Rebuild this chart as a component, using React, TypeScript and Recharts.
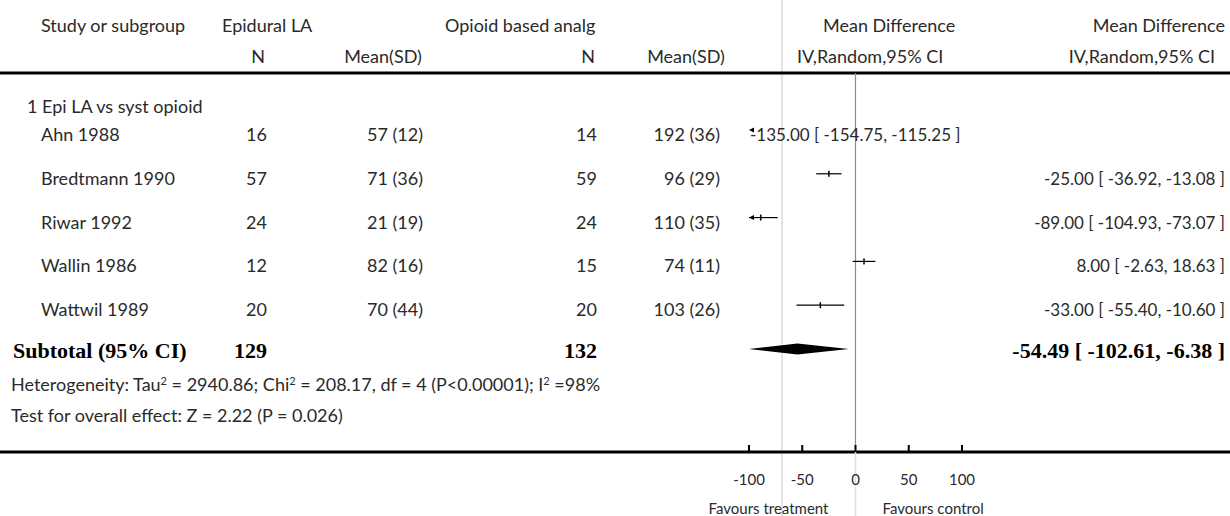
import React from "react";
import { ComposedChart, Scatter, XAxis, YAxis, ErrorBar, ReferenceLine, Customized } from "recharts";

// study rows
const studyNames = ["Ahn 1988", "Bredtmann 1990", "Riwar 1992", "Wallin 1986", "Wattwil 1989"];
const epiN = [16, 57, 24, 12, 20];
const epiMean = [57, 71, 21, 82, 70];
const epiSd = [12, 36, 19, 16, 44];
const opiN = [14, 59, 24, 15, 20];
const opiMean = [192, 96, 110, 74, 103];
const opiSd = [36, 29, 35, 11, 26];
const meanDiff = [-135.0, -25.0, -89.0, 8.0, -33.0];
const ciLow = [-154.75, -36.92, -104.93, -2.63, -55.4];
const ciHigh = [-115.25, -13.08, -73.07, 18.63, -10.6];

// pooled estimate
const subtotalN = [129, 132];
const subtotalMd = -54.49;
const subtotalCi = [-102.61, -6.38];
const heterogeneity = { tau2: 2940.86, chi2: 208.17, df: 4, i2: 98 };
const overall = { z: 2.22, p: 0.026 };

const xTicks = [-100, -50, 0, 50, 100];
const X_MIN = -100;
const X_MAX = 100;

const W = 1230;
const H = 516;
const PLOT_LEFT = 749;
const PLOT_RIGHT = 962;
const PLOT_TOP = 73;
const PLOT_BOTTOM = 452;

const FONT = "Lato, 'Open Sans', sans-serif";
const SERIF = "'Liberation Serif', 'DejaVu Serif', serif";
const INK = "#2a2a2a";
const FS = 18;
const FS_RESULT = 17;

const SUB_ROW = studyNames.length;
const clampX = (v: number) => Math.max(X_MIN, Math.min(X_MAX, v));
const fmt = (v: number) => v.toFixed(2);
const ciText = (m: number, lo: number, hi: number) => `${fmt(m)} [ ${fmt(lo)}, ${fmt(hi)} ]`;

// column anchors of the table
const COL_NAME = 41;
const COL_N1 = 267;
const COL_MEAN1 = 423;
const COL_N2 = 597;
const COL_MEAN2 = 720;
const COL_RESULT = 1225;

// study point + whisker (only rows whose interval reaches the visible range)
const ciData = studyNames
  .map((_, i) => ({ x: meanDiff[i], y: i, lo: ciLow[i], hi: ciHigh[i] }))
  .filter((d) => d.hi >= X_MIN && d.lo <= X_MAX)
  .map((d) => ({ ...d, err: [d.x - clampX(d.lo), clampX(d.hi) - d.x] }));

// truncation arrows at the left edge
const arrowData = studyNames
  .map((_, i) => ({ x: X_MIN, y: i, lo: ciLow[i] }))
  .filter((d) => d.lo < X_MIN);

const diamondData = [
  { x: clampX(subtotalCi[0]), y: SUB_ROW },
  { x: subtotalMd, y: SUB_ROW },
  { x: clampX(subtotalCi[1]), y: SUB_ROW },
];

function PointTick(props: any) {
  const { cx, cy } = props;
  if (cx == null || cy == null) return <g />;
  return <rect x={cx - 0.75} y={cy - 3} width={1.5} height={6} fill="#000" />;
}

function ArrowHead(props: any) {
  const { cx, cy } = props;
  if (cx == null || cy == null) return <g />;
  return <polygon points={`${cx},${cy} ${cx + 5},${cy - 2.5} ${cx + 5},${cy + 2.5}`} fill="#000" />;
}

function Diamond(props: any) {
  const pts = props.points;
  if (!pts || pts.length < 3) return <g />;
  const [l, c, r] = pts;
  const h = 5.5;
  return <polygon points={`${l.x},${l.y} ${c.x},${c.y - h} ${r.x},${r.y} ${c.x},${c.y + h}`} fill="#000" />;
}

function RowLabels(props: any) {
  const { y, payload } = props;
  const row = payload.value;
  if (row === SUB_ROW) {
    const by = y + 9;
    return (
      <g fontFamily={SERIF} fontWeight={700} fontSize={22} fill="#000">
        <text x={13} y={by}>Subtotal (95% CI)</text>
        <text x={COL_N1} y={by} textAnchor="end">{subtotalN[0]}</text>
        <text x={COL_N2} y={by} textAnchor="end">{subtotalN[1]}</text>
        <text x={COL_RESULT} y={by} textAnchor="end">{ciText(subtotalMd, subtotalCi[0], subtotalCi[1])}</text>
      </g>
    );
  }
  const i = row;
  if (i < 0 || i >= studyNames.length) return <g />;
  const by = y + 11;
  const offScale = ciHigh[i] < X_MIN;
  return (
    <g fontFamily={FONT} fontSize={FS} fill={INK}>
      <text x={COL_NAME} y={by}>{studyNames[i]}</text>
      <text x={COL_N1} y={by} textAnchor="end">{epiN[i]}</text>
      <text x={COL_MEAN1} y={by} textAnchor="end">{`${epiMean[i]} (${epiSd[i]})`}</text>
      <text x={COL_N2} y={by} textAnchor="end">{opiN[i]}</text>
      <text x={COL_MEAN2} y={by} textAnchor="end">{`${opiMean[i]} (${opiSd[i]})`}</text>
      <text
        x={offScale ? PLOT_LEFT + 1 : COL_RESULT}
        y={by}
        fontSize={FS_RESULT}
        textAnchor={offScale ? "start" : "end"}
      >
        {ciText(meanDiff[i], ciLow[i], ciHigh[i])}
      </text>
    </g>
  );
}

function AxisTick(props: any) {
  const { x, y, payload } = props;
  const v = payload.value;
  return (
    <g fontFamily={FONT} fill={INK} fontSize={15}>
      {v === 0 && <line x1={x} x2={x} y1={y} y2={H} stroke="#ddd" strokeWidth={1.5} />}
      <line x1={x} x2={x} y1={y - 7} y2={y} stroke="#000" strokeWidth={2} />
      <text x={x} y={y + 33} textAnchor="middle">{v}</text>
      {v === 0 && (
        <>
          <text x={x - 27} y={H - 2} textAnchor="end">Favours treatment</text>
          <text x={x + 27} y={H - 2}>Favours control</text>
        </>
      )}
    </g>
  );
}

function Frame() {
  const sup = { dy: -6, fontSize: 11 };
  const back = { dy: 6 };
  return (
    <g fontFamily={FONT} fontSize={FS} fill={INK}>
      <line x1={782} x2={782} y1={0} y2={H} stroke="#ddd" strokeWidth={1.5} />
      <line x1={0} x2={W} y1={PLOT_TOP} y2={PLOT_TOP} stroke="#000" strokeWidth={3} />
      <line x1={0} x2={W} y1={PLOT_BOTTOM} y2={PLOT_BOTTOM} stroke="#000" strokeWidth={3} />

      <text x={COL_NAME} y={32}>Study or subgroup</text>
      <text x={222} y={32}>Epidural LA</text>
      <text x={445} y={32}>Opioid based analg</text>
      <text x={823} y={32}>Mean Difference</text>
      <text x={COL_RESULT} y={32} textAnchor="end">Mean Difference</text>

      <text x={258} y={63} textAnchor="middle">N</text>
      <text x={383} y={63} textAnchor="middle">Mean(SD)</text>
      <text x={588} y={63} textAnchor="middle">N</text>
      <text x={686} y={63} textAnchor="middle">Mean(SD)</text>
      <text x={797} y={63}>IV,Random,95% CI</text>
      <text x={COL_RESULT - 10} y={63} textAnchor="end">IV,Random,95% CI</text>

      <text x={27} y={113}>1 Epi LA vs syst opioid</text>

      <text x={11} y={391}>
        <tspan>Heterogeneity: Tau</tspan>
        <tspan {...sup}>2</tspan>
        <tspan {...back}>{` = ${heterogeneity.tau2}; Chi`}</tspan>
        <tspan {...sup}>2</tspan>
        <tspan {...back}>{` = ${heterogeneity.chi2}, df = ${heterogeneity.df} (P<0.00001); I`}</tspan>
        <tspan {...sup}>2</tspan>
        <tspan {...back}>{` =${heterogeneity.i2}%`}</tspan>
      </text>
      <text x={11} y={422}>{`Test for overall effect: Z = ${overall.z} (P = ${overall.p})`}</text>
    </g>
  );
}

export default function App() {
  return (
    <div style={{ width: W, height: H, background: "#fff" }}>
      <style>{"body{margin:0}"}</style>
      <ComposedChart
        width={W}
        height={H}
        margin={{ top: PLOT_TOP, right: W - PLOT_RIGHT, bottom: 0, left: 0 }}
      >
        <Customized component={Frame} />
        <XAxis
          type="number"
          dataKey="x"
          domain={[X_MIN, X_MAX]}
          ticks={xTicks}
          allowDataOverflow
          interval={0}
          axisLine={false}
          tickLine={false}
          tickSize={0}
          tickMargin={0}
          height={H - PLOT_BOTTOM}
          tick={AxisTick}
        />
        <YAxis
          type="number"
          dataKey="y"
          domain={[-1.3, 7.35]}
          reversed
          allowDataOverflow
          ticks={[0, 1, 2, 3, 4, SUB_ROW]}
          interval={0}
          axisLine={false}
          tickLine={false}
          width={PLOT_LEFT}
          tick={RowLabels}
        />
        <ReferenceLine x={0} stroke="#8a8a8a" strokeWidth={1.2} />
        <Scatter data={ciData} shape={PointTick} isAnimationActive={false}>
          <ErrorBar dataKey="err" direction="x" width={0} stroke="#000" strokeWidth={1.2} isAnimationActive={false} />
        </Scatter>
        <Scatter data={arrowData} shape={ArrowHead} isAnimationActive={false} />
        <Scatter
          data={diamondData}
          shape={() => <g />}
          line={Diamond}
          lineType="joint"
          isAnimationActive={false}
        />
      </ComposedChart>
    </div>
  );
}
